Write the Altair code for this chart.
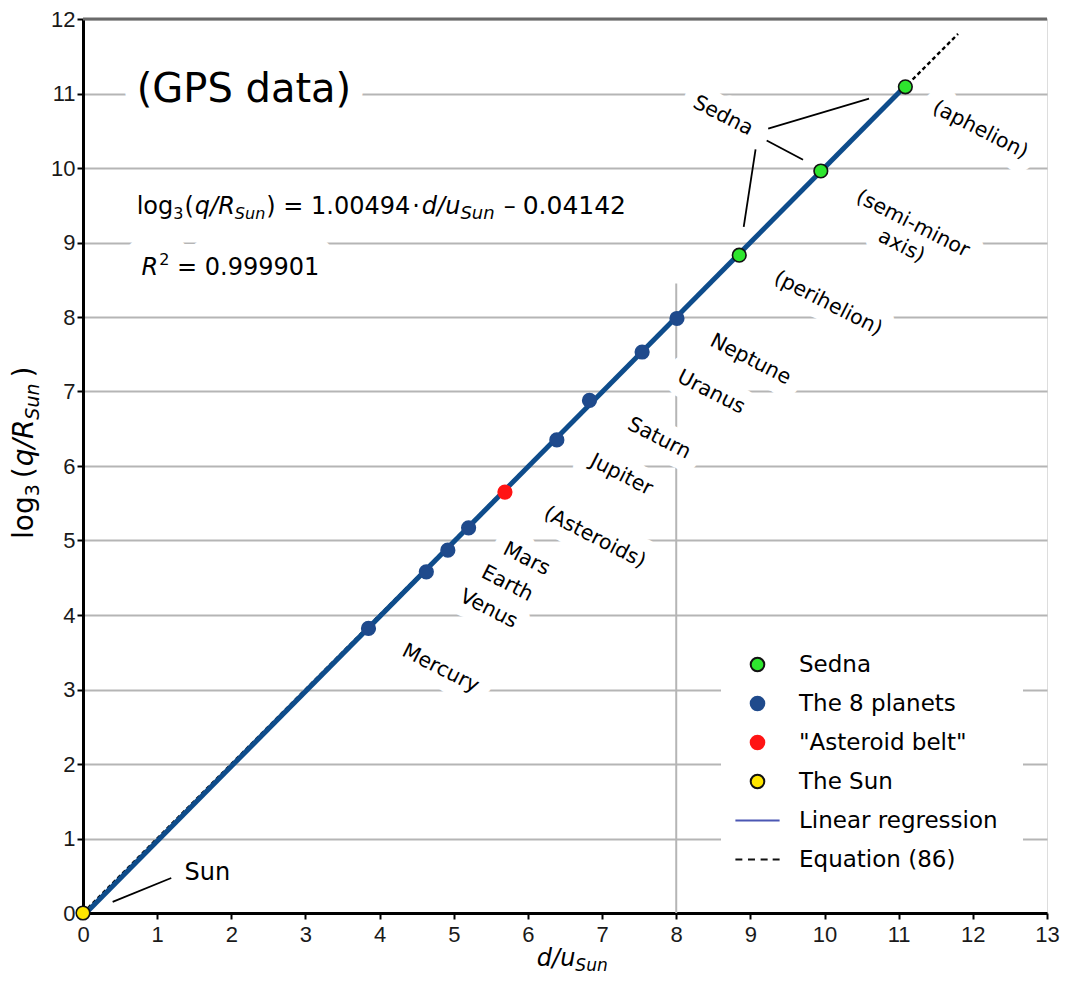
import altair as alt
import pandas as pd

# ---------------- data ----------------
pt_name = ["Sun", "Mercury", "Venus", "Earth", "Mars", "Asteroid belt", "Jupiter",
           "Saturn", "Uranus", "Neptune", "Sedna perihelion", "Sedna semi-minor axis",
           "Sedna aphelion"]
pt_x = [0.0, 3.85, 4.63, 4.92, 5.20, 5.69, 6.39, 6.83, 7.54, 8.01, 8.85, 9.95, 11.09]
pt_y = [0.0, 3.82, 4.58, 4.87, 5.17, 5.65, 6.35, 6.88, 7.53, 7.98, 8.83, 9.96, 11.09]
pt_group = ["The Sun"] + ["The 8 planets"] * 4 + ['"Asteroid belt"'] + \
           ["The 8 planets"] * 4 + ["Sedna"] * 3

legend_keys = ["Sedna", "The 8 planets", '"Asteroid belt"', "The Sun",
               "Linear regression", "Equation (86)"]
legend_fill = ["#2ee62e", "#1f4a8c", "#ff1414", "#ffe600", "transparent", "transparent"]
legend_stroke = ["#111111", "#1f4a8c", "#ff1414", "#111111", "#4b57b3", "#111111"]
LINE_SYM = "M-3.25,0L3.25,0"
DASH_SYM = "M-3.25,0L-2.23,0M-1.4,0L-0.37,0M0.46,0L1.49,0M2.23,0L3.25,0"
legend_shape = ["circle", "circle", "circle", "circle", LINE_SYM, DASH_SYM]

reg_x = [0.0, 11.09]          # linear regression (drawn segment)
reg_y = [-0.04, 11.10]
eq_x = [0.0, 11.8]            # Equation (86), dotted
eq_y = [0.0, 11.8]

vline_x = [8.0]               # vertical reference line
vline_y = [0.0]
vline_y2 = [8.45]

lab_text = ["Mercury", "Venus", "Earth", "Mars", "(Asteroids)", "Jupiter", "Saturn",
            "Uranus", "Neptune", "(perihelion)", "(semi-minor\naxis)", "(aphelion)", "Sedna"]
lab_x = [4.82, 5.47, 5.72, 5.98, 6.90, 7.26, 7.77, 8.47, 9.00, 10.05, 11.19, 12.10, 8.63]
lab_y = [3.28, 4.08, 4.42, 4.75, 5.04, 5.88, 6.37, 6.99, 7.43, 8.18, 9.25, 10.51, 10.70]

seg_x = [9.24, 9.22, 9.07, 1.19]     # callout lines
seg_y = [10.53, 10.37, 10.25, 0.47]
seg_x2 = [10.60, 9.71, 8.91, 0.40]
seg_y2 = [10.93, 10.11, 9.21, 0.15]

x_ticks = list(range(0, 14))
y_ticks = list(range(0, 13))

# ---------------- styling helpers ----------------
W, H = 964, 894
FONT = "DejaVu Sans"
XS = alt.Scale(domain=[0, 13], nice=False, zero=False)
YS = alt.Scale(domain=[0, 12], nice=False, zero=False)
XAX = alt.Axis(title=None, values=x_ticks, grid=False, domainColor="black", domainWidth=3,
               tickColor="black", tickWidth=2, tickSize=6, labelFont="Liberation Sans",
               labelFontSize=22, labelColor="#1a1a1a", labelPadding=5, labelFlush=False)
YAX = alt.Axis(title=None, values=y_ticks, grid=True, gridColor="#b5b5b5", gridWidth=2,
               domainColor="black", domainWidth=3, tickColor="black", tickWidth=2,
               tickSize=6, labelFont="Liberation Sans", labelFontSize=22,
               labelColor="#1a1a1a", labelPadding=2, labelFlush=False)


def xe(f="x"):
    return alt.X(f, type="quantitative", scale=XS, axis=XAX)


def ye(f="y"):
    return alt.Y(f, type="quantitative", scale=YS, axis=YAX)


# DejaVu Sans advance widths (em)
WID = {" ": .318, "(": .390, ")": .390, "/": .337, "=": .838, "·": .318, "–": .5,
       ".": .318, "l": .278, "o": .612, "g": .635, "q": .635, "R": .695, "S": .635,
       "u": .634, "n": .634, "d": .635, "G": .775, "P": .603, "a": .613, "t": .392}
for _d in "0123456789":
    WID[_d] = .636


def tw(s, size):
    return sum(WID.get(c, .6) for c in s) * size


def run(ax, ay, pieces, angle=0, halo=0):
    """pieces: (text, size, italic, dy, gap_before); halo = white halo width"""
    txt, hal = [], []
    dx = 0.0
    df = pd.DataFrame({"x": [ax], "y": [ay]})
    for s, size, italic, dy, gap in pieces:
        dx += gap
        kw = dict(align="left", baseline="alphabetic", dx=dx, dy=dy, fontSize=size,
                  font=FONT, angle=angle, fontStyle="italic" if italic else "normal")
        base = alt.Chart(df).encode(x=xe("x"), y=ye("y"), text=alt.value(s))
        txt.append(base.mark_text(color="black", **kw))
        if halo:
            hal.append(base.mark_text(fill="white", stroke="white", strokeWidth=halo,
                                      strokeJoin="round", **kw))
        dx += tw(s, size)
    return txt, hal


# ---------------- layers ----------------
pts = pd.DataFrame({"name": pt_name, "x": pt_x, "y": pt_y, "group": pt_group})
labs = pd.DataFrame({"t": lab_text, "x": lab_x, "y": lab_y})
segs = pd.DataFrame({"x": seg_x, "y": seg_y, "x2": seg_x2, "y2": seg_y2})
reg = pd.DataFrame({"x": reg_x, "y": reg_y})
eqd = pd.DataFrame({"x": eq_x, "y": eq_y})
vl = pd.DataFrame({"x": vline_x, "y": vline_y, "y2": vline_y2})

vrule = alt.Chart(vl).mark_rule(color="#b5b5b5", strokeWidth=2).encode(
    x=xe("x"), y=ye("y"), y2="y2:Q")

lab_kw = dict(angle=27, fontSize=20.5, font=FONT, align="center", baseline="middle",
              lineBreak="\n", lineHeight=25)
lab_halo = alt.Chart(labs).mark_text(fill="white", stroke="white", strokeWidth=26,
                                     strokeJoin="round", **lab_kw).encode(
    x=xe("x"), y=ye("y"), text="t:N")
lab_txt = alt.Chart(labs).mark_text(color="black", **lab_kw).encode(
    x=xe("x"), y=ye("y"), text="t:N")

eq_line = alt.Chart(eqd).mark_line(color="black", strokeWidth=2.4, strokeDash=[4, 3]).encode(
    x=xe("x"), y=ye("y"))
reg_line = alt.Chart(reg).mark_line(color="#0e4c8b", strokeWidth=5).encode(
    x=xe("x"), y=ye("y"))

callouts = alt.Chart(segs).mark_rule(color="black", strokeWidth=1.8).encode(
    x=xe("x"), y=ye("y"), x2="x2:Q", y2="y2:Q")

leg = alt.Legend(title=None, orient="none", legendX=638, legendY=609, fillColor="white",
                 padding=25, rowPadding=15, labelOffset=30, labelFontSize=23,
                 labelFont=FONT, labelColor="black", symbolStrokeWidth=2,
                 symbolSize=185, labelLimit=400)
points = alt.Chart(pts).mark_point(filled=True, opacity=1, size=185, strokeWidth=1.6).encode(
    x=xe("x"), y=ye("y"),
    fill=alt.Fill("group:N", scale=alt.Scale(domain=legend_keys, range=legend_fill), legend=leg),
    stroke=alt.Stroke("group:N", scale=alt.Scale(domain=legend_keys, range=legend_stroke), legend=leg),
    shape=alt.Shape("group:N", scale=alt.Scale(domain=legend_keys, range=legend_shape), legend=leg),
    tooltip=["name:N"],
)

# composite texts
gps_t, gps_h = run(0.724, 10.89, [("(GPS data)", 40, False, 0, 0)], halo=30)
eq_t, eq_h = run(0.724, 9.385, [
    ("log", 24, False, 0, 0), ("3", 16, False, 5, 0), ("(", 24, False, 0, 1),
    ("q/R", 24, True, 0, 1), ("Sun", 16, True, 5, 0), (")", 24, False, 0, 1),
    ("= 1.00494", 24, False, 0, 7.6), ("·", 24, False, 0, 2), ("d/u", 24, True, 0, 2),
    ("Sun", 18, True, 5, 0), ("–", 24, False, 0, 9), ("0.04142", 25, False, 0, 7)],
    halo=26)
r2_t, r2_h = run(0.79, 8.56, [("R", 24, True, 0, 0), ("2", 16, False, -10, 1),
                              ("= 0.999901", 24, False, 0, 7.6)], halo=40)
sun_t, sun_h = run(1.37, 0.44, [("Sun", 24, False, 0, 0)], halo=26)
xt_t, _ = run(6.12, -0.71, [("d/u", 24, True, 0, 0), ("Sun", 17, True, 5, 0)])
yt_t, _ = run(-0.675, 5.02, [("log", 28, False, 0, 0), ("3", 19, False, 6, 0),
                             ("(", 28, False, 0, 6), ("q/R", 28, True, 0, 1),
                             ("Sun", 19, True, 6, 0), (")", 28, False, 0, 6)], angle=270)

top_rule = alt.Chart(pd.DataFrame({"x": [0]})).mark_rule(color="#6a6a6a", strokeWidth=3).encode(
    x=alt.value(0), x2=alt.value(W), y=alt.value(0))

layers = [vrule, lab_halo] + gps_h + eq_h + r2_h + sun_h + \
         [eq_line, reg_line, callouts, points, lab_txt] + \
         gps_t + eq_t + r2_t + sun_t + xt_t + yt_t + [top_rule]

chart = alt.layer(*layers).properties(
    width=W, height=H,
    autosize=alt.AutoSizeParams(type="none"),
    padding={"left": 75, "top": 11, "right": 13, "bottom": 64},
).configure_view(stroke="#111111", strokeWidth=3).configure(font=FONT)

chart.save("out.html", embed_options={"renderer": "svg", "actions": False})
